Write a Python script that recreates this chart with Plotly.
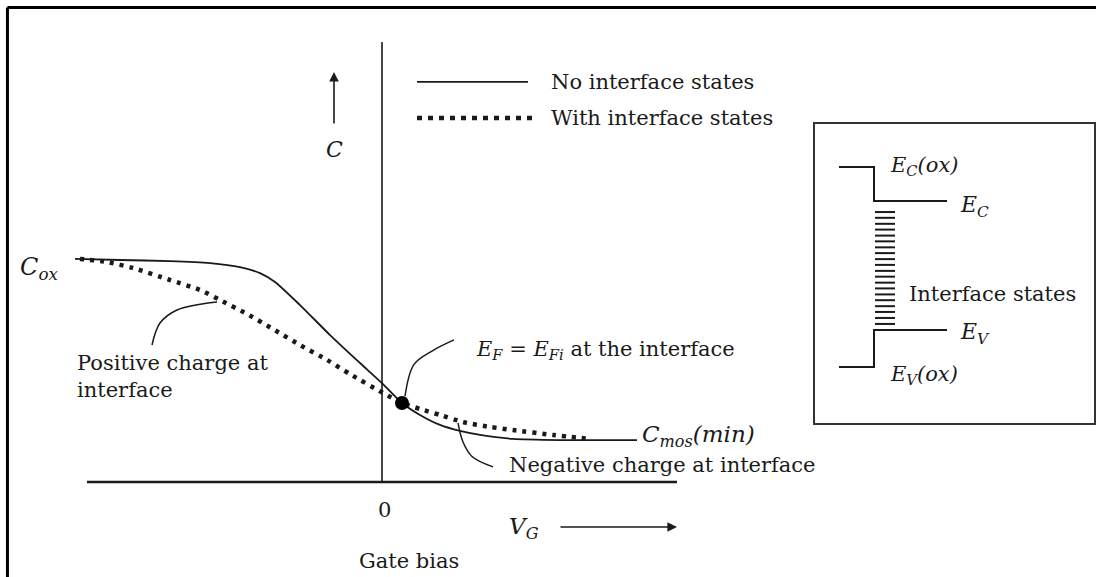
import plotly.graph_objects as go

# Gate bias (arbitrary units, 0 at flat band / midgap) and normalised capacitance C/Cox
v_ideal = [-6.14, -5.24, -4.24, -3.44, -2.84, -2.44, -2.14, -1.64, -1.04, -0.44,
           0.02, 0.40, 0.76, 1.16, 1.56, 1.96, 2.62, 3.56, 5.10]
c_ideal = [1.005, 1.000, 0.995, 0.986, 0.968, 0.941, 0.901, 0.797, 0.662, 0.536,
           0.441, 0.356, 0.302, 0.257, 0.230, 0.212, 0.194, 0.189, 0.189]

v_traps = [-6.04, -5.50, -4.98, -4.24, -3.64, -3.24, -2.70, -2.18, -1.64, -1.10,
           -0.64, 0.02, 0.40, 0.76, 1.16, 1.62, 2.16, 2.62, 3.42, 4.16]
c_traps = [1.005, 0.991, 0.964, 0.910, 0.865, 0.820, 0.757, 0.689, 0.617, 0.550,
           0.486, 0.401, 0.356, 0.329, 0.302, 0.270, 0.248, 0.234, 0.212, 0.194]

# Point where E_F = E_Fi at the interface
v_mid = [0.40]
c_mid = [0.356]

# Leader curves for the callouts
lead_pos_v = [-4.60, -4.44, -4.10, -3.30]
lead_pos_c = [0.617, 0.716, 0.775, 0.811]
lead_mid_v = [0.46, 0.64, 1.00, 1.44]
lead_mid_c = [0.387, 0.530, 0.590, 0.640]
lead_neg_v = [1.52, 1.62, 1.80, 2.22]
lead_neg_c = [0.266, 0.180, 0.115, 0.068]

# Inset band diagram (oxide / semiconductor interface)
ec_band_x = [9.14, 9.84, 9.84, 11.30]
ec_band_y = [1.419, 1.419, 1.266, 1.266]
ev_band_x = [11.30, 9.84, 9.84, 9.14]
ev_band_y = [0.685, 0.685, 0.518, 0.518]
trap_x = [9.86, 10.26]
trap_levels = [1.216, 1.190, 1.163, 1.137, 1.110, 1.084, 1.057, 1.031, 1.004, 0.978,
               0.951, 0.925, 0.898, 0.872, 0.845, 0.819, 0.792, 0.766, 0.739, 0.712]

INK = "#1a1a1a"
FONT = "DejaVu Serif"
FS = 21

fig = go.Figure()

fig.add_trace(go.Scatter(x=v_ideal, y=c_ideal, mode="lines",
                         line=dict(color=INK, width=1.8, shape="spline", smoothing=0.6),
                         hoverinfo="skip"))
fig.add_trace(go.Scatter(x=v_traps, y=c_traps, mode="lines",
                         line=dict(color=INK, width=4.5, dash="4px,6px", shape="spline", smoothing=0.6),
                         hoverinfo="skip"))
fig.add_trace(go.Scatter(x=v_mid, y=c_mid, mode="markers",
                         marker=dict(color="black", size=14), hoverinfo="skip"))

for lx, ly in [(lead_pos_v, lead_pos_c), (lead_mid_v, lead_mid_c), (lead_neg_v, lead_neg_c)]:
    fig.add_trace(go.Scatter(x=lx, y=ly, mode="lines",
                             line=dict(color=INK, width=1.5, shape="spline", smoothing=1.0),
                             hoverinfo="skip"))

# Legend samples
fig.add_trace(go.Scatter(x=[0.70, 2.92], y=[1.802, 1.802], mode="lines",
                         line=dict(color=INK, width=1.8), hoverinfo="skip"))
fig.add_trace(go.Scatter(x=[0.70, 3.06], y=[1.640, 1.640], mode="lines",
                         line=dict(color=INK, width=4.5, dash="5px,6px"), hoverinfo="skip"))

# Axes of the C-V sketch
fig.add_trace(go.Scatter(x=[0, 0], y=[1.982, 0], mode="lines",
                         line=dict(color=INK, width=1.6), hoverinfo="skip"))
fig.add_trace(go.Scatter(x=[-5.90, 5.90], y=[0, 0], mode="lines",
                         line=dict(color=INK, width=2.6), hoverinfo="skip"))

# Inset band diagram
fig.add_trace(go.Scatter(x=ec_band_x, y=ec_band_y, mode="lines",
                         line=dict(color=INK, width=2), hoverinfo="skip"))
fig.add_trace(go.Scatter(x=ev_band_x, y=ev_band_y, mode="lines",
                         line=dict(color=INK, width=2), hoverinfo="skip"))
hx, hy = [], []
for lvl in trap_levels:
    hx += [trap_x[0], trap_x[1], None]
    hy += [lvl, lvl, None]
fig.add_trace(go.Scatter(x=hx, y=hy, mode="lines",
                         line=dict(color=INK, width=2), hoverinfo="skip"))

fig.add_shape(type="rect", xref="x", yref="y", x0=8.64, x1=14.26, y0=0.261, y1=1.617,
              line=dict(color="#333", width=2))

# Outer frame (top and left edges)
fig.add_shape(type="line", xref="paper", yref="paper", x0=0.0068, x1=1.0, y0=0.987, y1=0.987,
              line=dict(color="black", width=3))
fig.add_shape(type="line", xref="paper", yref="paper", x0=0.0068, x1=0.0068, y0=0.0, y1=0.987,
              line=dict(color="black", width=3))


def label(x, y, text, xanchor="left", size=FS, align="left"):
    fig.add_annotation(x=x, y=y, xref="x", yref="y", text=text, showarrow=False,
                       xanchor=xanchor, yanchor="middle", align=align,
                       font=dict(family=FONT, size=size, color=INK))


label(3.34, 1.802, "No interface states")
label(3.34, 1.640, "With interface states")
label(-0.96, 1.500, "<i>C</i>", xanchor="center", size=22)
label(-7.28, 0.964, "<i>C<sub>ox</sub></i>", size=24)
label(-6.14, 0.475, "Positive charge at<br>interface")
label(1.84, 0.595, "<i>E<sub>F</sub></i> = <i>E<sub>Fi</sub></i> at the interface")
label(5.16, 0.207, "<i>C<sub>mos</sub>(min)</i>", size=23)
label(2.50, 0.077, "Negative charge at interface")
label(0.04, -0.126, "0", xanchor="center")
label(2.50, -0.207, "<i>V<sub>G</sub></i>", size=23)
label(0.54, -0.356, "Gate bias", xanchor="center")

label(10.12, 1.423, "<i>E<sub>C</sub>(ox)</i>")
label(11.52, 1.243, "<i>E<sub>C</sub></i>", size=22)
label(10.50, 0.847, "Interface states")
label(11.52, 0.671, "<i>E<sub>V</sub></i>", size=22)
label(10.12, 0.482, "<i>E<sub>V</sub>(ox)</i>")

# Arrows for the C and V_G directions
fig.add_annotation(x=-0.96, y=1.847, ax=-0.96, ay=1.608, xref="x", yref="y", axref="x", ayref="y",
                   text="", showarrow=True, arrowhead=2, arrowsize=1.2, arrowwidth=1.6, arrowcolor=INK)
fig.add_annotation(x=5.90, y=-0.203, ax=3.54, ay=-0.203, xref="x", yref="y", axref="x", ayref="y",
                   text="", showarrow=True, arrowhead=2, arrowsize=1.2, arrowwidth=1.6, arrowcolor=INK)

fig.update_layout(
    width=1096, height=577, margin=dict(l=0, r=0, t=0, b=0),
    paper_bgcolor="white", plot_bgcolor="white", showlegend=False,
    xaxis=dict(range=[-7.64, 14.28], visible=False, fixedrange=True),
    yaxis=dict(range=[-0.4279, 2.1712], visible=False, fixedrange=True),
)

fig.write_html("out.html")
